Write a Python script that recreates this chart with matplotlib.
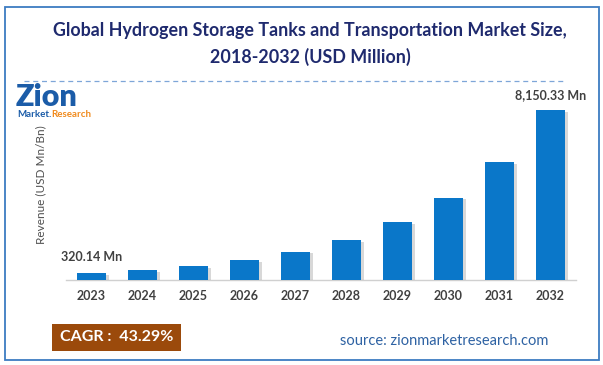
import matplotlib
matplotlib.use('Agg')
import matplotlib.pyplot as plt
import matplotlib.patheffects as pe
from matplotlib.patches import Rectangle

# Data
years = ['2023', '2024', '2025', '2026', '2027', '2028', '2029', '2030', '2031', '2032']
revenue = [320.14, 470, 665, 950, 1360, 1925, 2760, 3950, 5660, 8150.33]
first_label = '320.14 Mn'
last_label = '8,150.33 Mn'

TITLE = 'Global Hydrogen Storage Tanks and Transportation Market Size,\n2018-2032 (USD Million)'
BAR_COLOR = '#0a77c9'
TEXT_DARK = '#404040'
FONT = ['Lato', 'DejaVu Sans']

plt.rcParams['font.family'] = FONT

fig = plt.figure(figsize=(6.03, 3.65), dpi=100)
fig.patch.set_facecolor('white')

W, H = 603, 365

# outer frame
fig.patches.append(Rectangle((5 / W, 5 / H), 594 / W, 353 / H, transform=fig.transFigure,
                             fill=False, edgecolor='#3d7cc2', linewidth=1.3))

# title + dashed rule
fig.text(310 / W, 1 - 44 / H, TITLE, ha='center', va='center', fontsize=12.9,
         fontweight='bold', color='#1f2a6e', linespacing=1.6)
fig.add_artist(plt.Line2D([24 / W, 564 / W], [1 - 81 / H, 1 - 81 / H], transform=fig.transFigure,
                          color='#7ea6d8', linewidth=0.9, linestyle=(0, (4, 3))))

# logo (text approximation)
fig.text(16 / W, 1 - 97 / H, 'Zion', fontsize=22, fontweight='heavy', color='#1b5ca8',
         ha='left', va='center')
t1 = fig.text(17 / W, 1 - 114 / H, 'Market.', fontsize=7, fontweight='bold', color='#1b5ca8',
              ha='left', va='center')
fig.canvas.draw()
bb = t1.get_window_extent()
fig.text(bb.x1 / W, 1 - 114 / H, 'Research', fontsize=7, fontweight='bold', color='#f08a1c',
         ha='left', va='center')

# chart area
ax = fig.add_axes([66 / W, (H - 280) / H, 510 / W, 190 / H])
x = range(len(years))
bars = ax.bar(x, revenue, width=0.57, color=BAR_COLOR, zorder=3)
for b in bars:
    b.set_path_effects([pe.SimplePatchShadow(offset=(1.8, -1.2), shadow_rgbFace='#909090', alpha=0.35),
                        pe.Normal()])

ax.set_xlim(-0.5, 9.5)
ax.set_ylim(0, 9110)
ax.set_xticks(list(x))
ax.set_xticklabels(years, fontsize=9, fontweight='bold', color=TEXT_DARK)
ax.tick_params(axis='x', length=0, pad=7)
ax.set_yticks([])
for s in ['top', 'right', 'left']:
    ax.spines[s].set_visible(False)
ax.spines['bottom'].set_color('#d0d0d0')
ax.spines['bottom'].set_linewidth(1)

ax.set_ylabel('Revenue (USD Mn/Bn)', fontsize=8.5, color='#505050', labelpad=14)

ax.annotate(first_label, (0, revenue[0]), xytext=(0, 12), textcoords='offset points',
            ha='center', va='center', fontsize=9, fontweight='bold', color=TEXT_DARK)
ax.annotate(last_label, (9, revenue[-1]), xytext=(0, 11), textcoords='offset points',
            ha='center', va='center', fontsize=9, fontweight='bold', color=TEXT_DARK)

# CAGR box and source
fig.patches.append(Rectangle((52 / W, 1 - 351 / H), 129 / W, 27 / H, transform=fig.transFigure,
                             facecolor='#9b4a0b', edgecolor='none'))
fig.text(117 / W, 1 - 337 / H, 'CAGR :  43.29%', ha='center', va='center', fontsize=11.5,
         fontweight='bold', color='white')
fig.text(444 / W, 1 - 341 / H, 'source: zionmarketresearch.com', ha='center', va='center',
         fontsize=10.5, color='#2e62a3')

fig.savefig('out.png', dpi=100)
